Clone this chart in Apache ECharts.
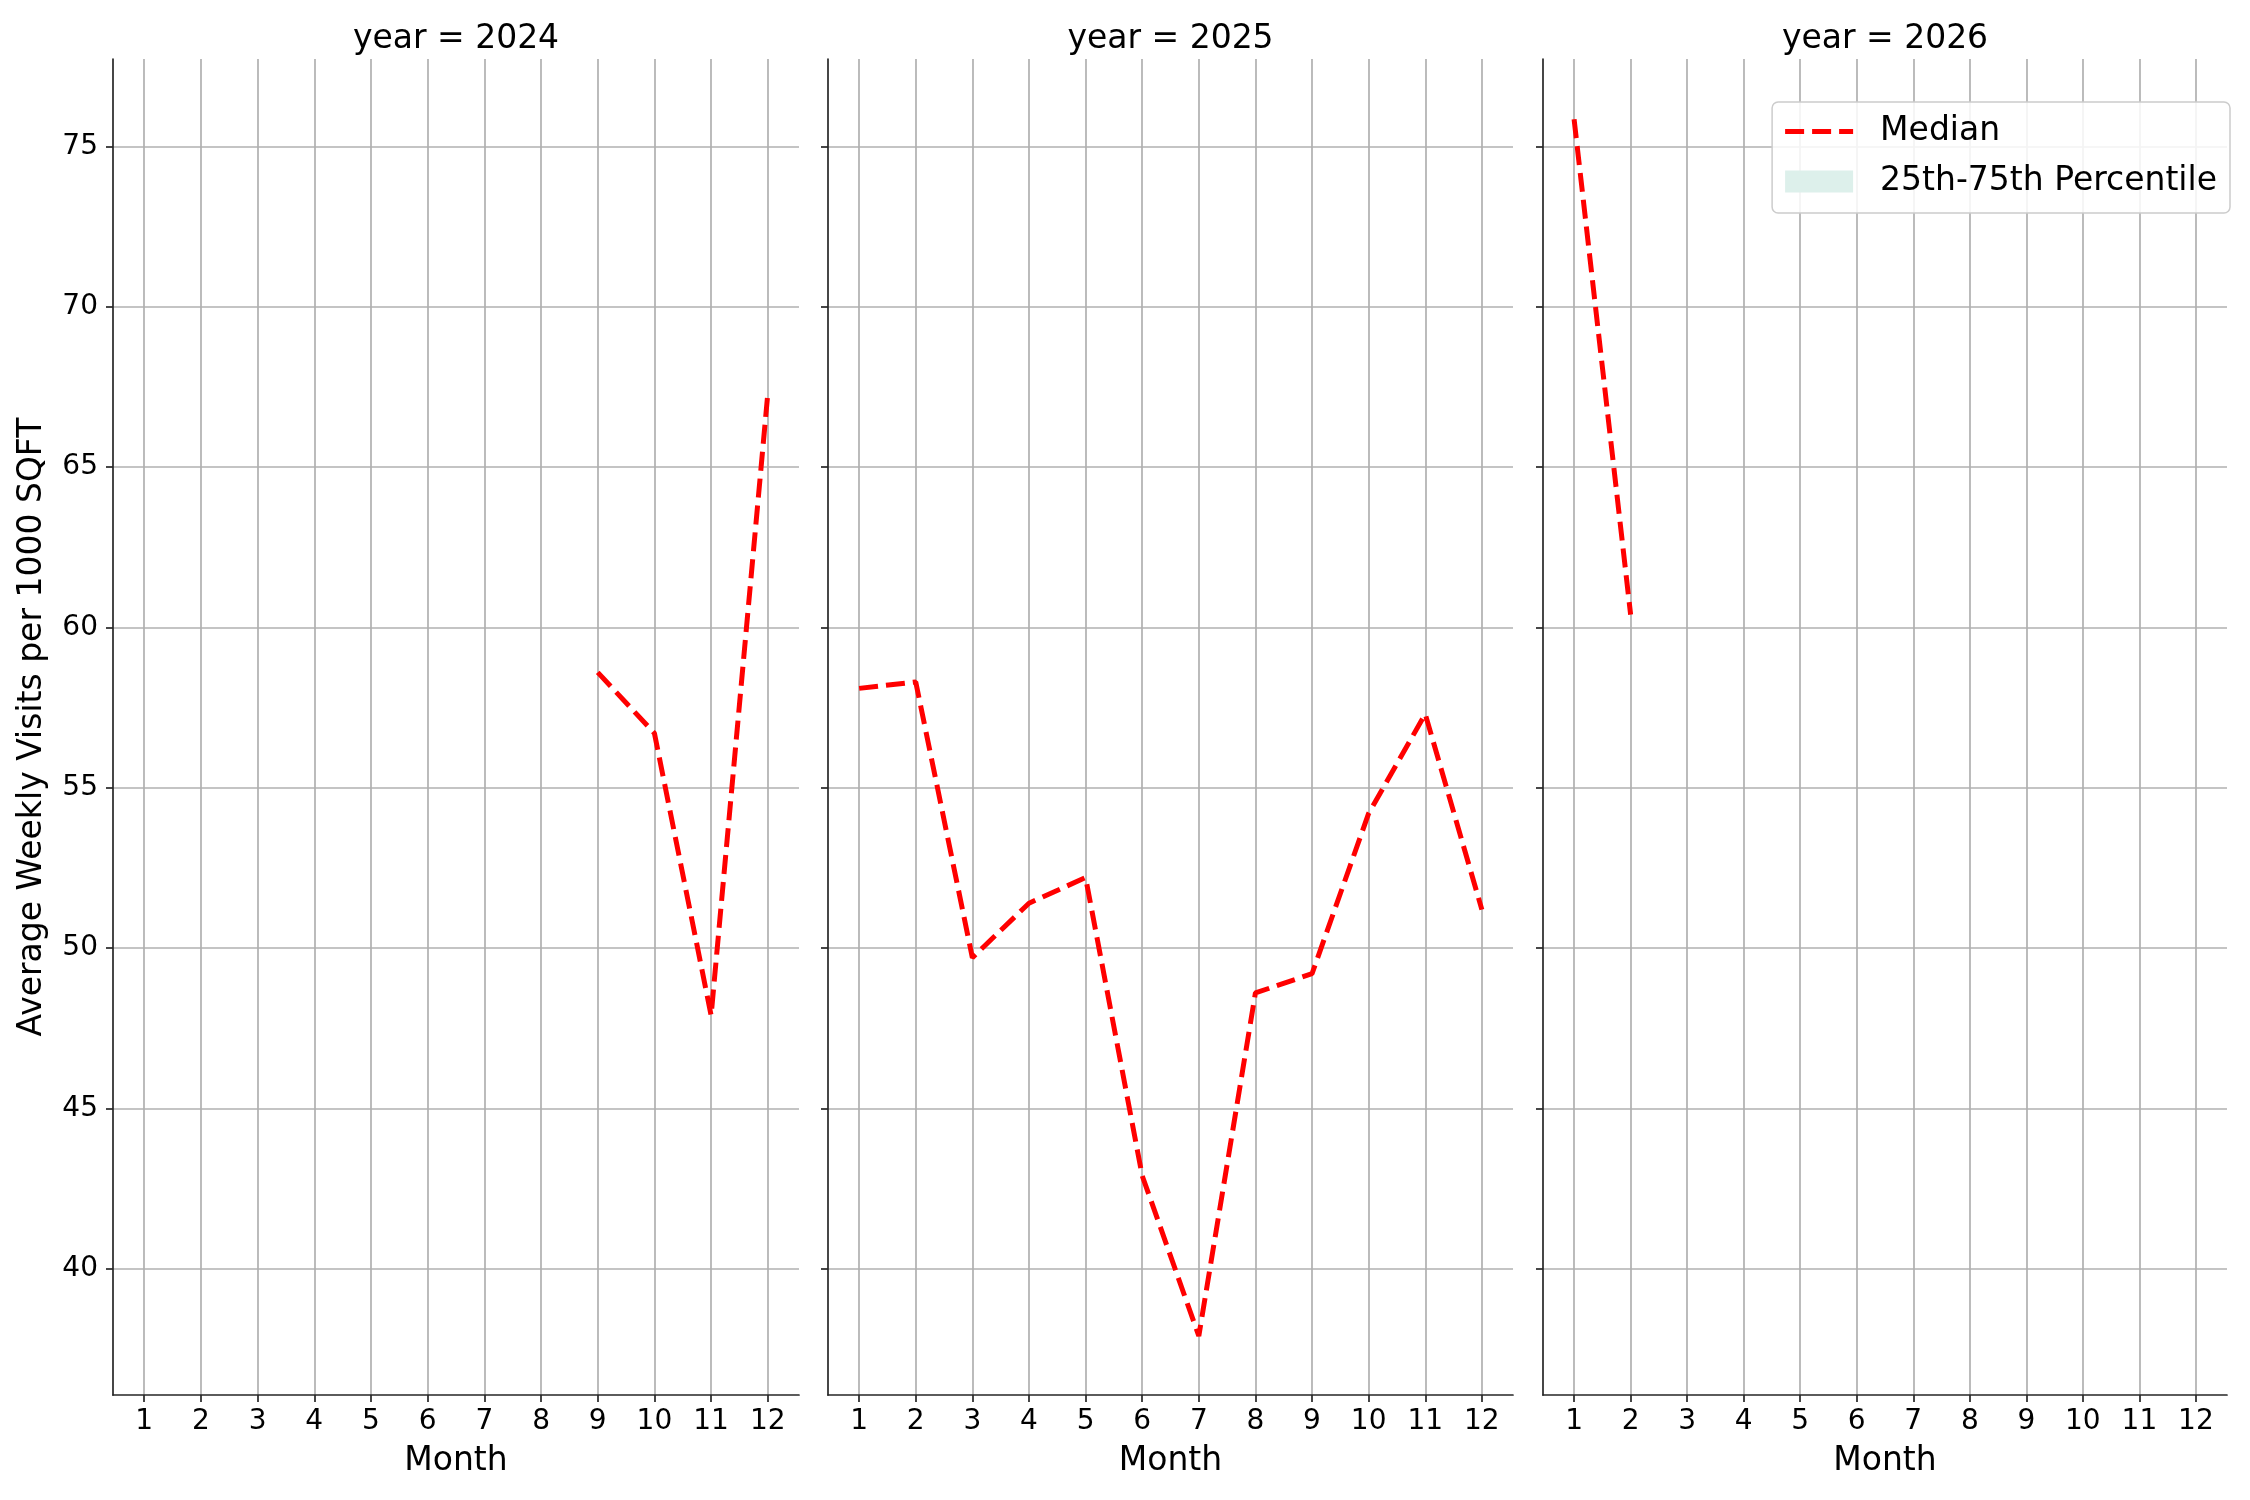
<!DOCTYPE html>
<html>
<head>
<meta charset="utf-8">
<script src="https://cdn.jsdelivr.net/npm/echarts@6/dist/echarts.min.js"></script>
<style>
  html, body { margin: 0; padding: 0; background: #fff; }
  #chart { width: 2250px; height: 1500px; }
</style>
</head>
<body>
<div id="chart"></div>
<script>
// data
const years = [2024, 2025, 2026];
const months = [1, 2, 3, 4, 5, 6, 7, 8, 9, 10, 11, 12];
const median2024 = [null, null, null, null, null, null, null, null, 58.6, 56.7, 47.9, 67.3];
const median2025 = [58.1, 58.3, 49.7, 51.4, 52.2, 42.9, 37.9, 48.6, 49.2, 54.2, 57.3, 51.2];
const median2026 = [75.85, 60.4, null, null, null, null, null, null, null, null, null, null];
const yTicks = [40, 45, 50, 55, 60, 65, 70, 75];

const medians = [median2024, median2025, median2026];
const FONT = 'DejaVu Sans';
const axisColor = '#262626';
const gridColor = '#b0b0b0';

// panel boxes (left, width)
const panels = [[113, 686], [828, 685], [1543, 684]];
const gridTop = 59, gridHeight = 1336;

const pairs = arr => months.map((m, i) => [m, arr[i]]).filter(p => p[1] !== null);

// legend icon: three red dashes like matplotlib's '--'
const dashIcon = 'path://M0,0h19v5h-19z M27,0h19v5h-19z M54,0h14v5h-14z';

const chart = echarts.init(document.getElementById('chart'));

const option = {
    backgroundColor: '#fff',
    animation: false,
    title: years.map((y, i) => ({
        text: 'year = ' + y,
        left: panels[i][0] + panels[i][1] / 2,
        textAlign: 'center',
        top: 23,
        padding: 0,
        textStyle: { fontFamily: FONT, fontSize: 33, fontWeight: 'normal', color: '#000' }
    })),
    grid: panels.map(p => ({ left: p[0], width: p[1], top: gridTop, height: gridHeight })),
    xAxis: panels.map((p, i) => ({
        type: 'value',
        gridIndex: i,
        min: 0.45,
        max: 12.55,
        name: 'Month',
        nameLocation: 'middle',
        nameGap: 50,
        nameTextStyle: { fontFamily: FONT, fontSize: 33, color: '#000' },
        axisLine: { show: true, onZero: false, lineStyle: { color: axisColor, width: 1.7 } },
        axisTick: { show: true, customValues: months, length: 7, lineStyle: { color: axisColor, width: 1.7 } },
        axisLabel: { customValues: months, margin: 13, fontFamily: FONT, fontSize: 28, color: '#000' },
        splitLine: { show: true, lineStyle: { color: gridColor, width: 1.7 } }
    })),
    yAxis: panels.map((p, i) => ({
        type: 'value',
        gridIndex: i,
        min: 36.06,
        max: 77.73,
        name: i === 0 ? 'Average Weekly Visits per 1000 SQFT' : '',
        nameLocation: 'middle',
        nameGap: 64,
        nameTextStyle: { fontFamily: FONT, fontSize: 33, color: '#000' },
        axisLine: { show: true, onZero: false, lineStyle: { color: axisColor, width: 1.7 } },
        axisTick: { show: true, customValues: yTicks, length: 7, lineStyle: { color: axisColor, width: 1.7 } },
        axisLabel: { show: i === 0, customValues: yTicks, margin: 15, fontFamily: FONT, fontSize: 28, color: '#000' },
        splitLine: { show: true, lineStyle: { color: gridColor, width: 1.7 } }
    })),
    legend: {
        right: 20,
        top: 102,
        orient: 'vertical',
        itemWidth: 68,
        itemHeight: 22,
        itemGap: 17,
        padding: [13, 13, 15, 13],
        backgroundColor: 'rgba(255,255,255,0.85)',
        borderColor: '#cccccc',
        borderWidth: 1.5,
        borderRadius: 6,
        textStyle: { fontFamily: FONT, fontSize: 33, color: '#000', padding: [0, 0, 0, 22] },
        data: [
            { name: 'Median', icon: dashIcon, itemStyle: { color: '#ff0000', borderWidth: 0 } },
            { name: '25th-75th Percentile', icon: 'rect', itemStyle: { color: '#ddf0eb', borderWidth: 0 } }
        ]
    },
    series: medians.map((arr, i) => ({
        name: 'Median',
        type: 'line',
        xAxisIndex: i,
        yAxisIndex: i,
        symbol: 'none',
        lineStyle: { color: '#ff0000', width: 5, type: [19, 8], cap: 'butt' },
        itemStyle: { color: '#ff0000' },
        data: pairs(arr)
    })).concat([{
        name: '25th-75th Percentile',
        type: 'line',
        xAxisIndex: 2,
        yAxisIndex: 2,
        symbol: 'none',
        itemStyle: { color: '#ddf0eb' },
        areaStyle: { color: '#ddf0eb' },
        data: []
    }])
};

chart.setOption(option);
</script>
</body>
</html>
